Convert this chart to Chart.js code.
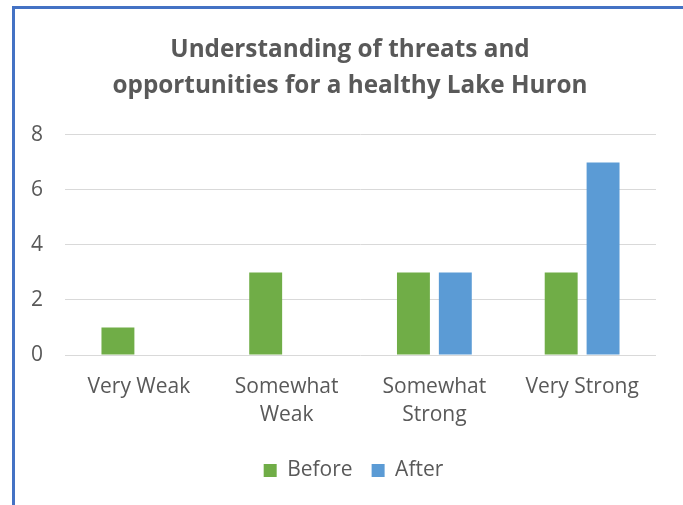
<!DOCTYPE html>
<html>
<head>
<meta charset="utf-8">
<script src="https://cdn.jsdelivr.net/npm/chart.js@4/dist/chart.umd.min.js"></script>
<style>
  html, body { margin: 0; padding: 0; background: #fff; }
  #frame {
    position: absolute; left: 12px; top: 6px;
    width: 671px; height: 499px;
    border-left: 3px solid #4472C4; border-top: 3px solid #4472C4;
    box-sizing: border-box;
  }
  #wrap { position: absolute; left: 0; top: 0; width: 668px; height: 496px; }
</style>
</head>
<body>
<div id="frame"><div id="wrap"><canvas id="c"></canvas></div></div>
<script>
const categories = [["Very Weak"], ["Somewhat", "Weak"], ["Somewhat", "Strong"], ["Very Strong"]];
const beforeValues = [1, 3, 3, 3];
const afterValues = [0, 0, 3, 7];
const yTicks = [0, 2, 4, 6, 8];

const textColor = '#595959';
const font = "'Open Sans', 'Noto Sans', sans-serif";

// Centre the title and legend on the whole chart box rather than on the padded layout area.
const blockShift = {
  id: 'blockShift',
  afterLayout(chart) {
    const t = chart.titleBlock;
    if (t) { t.left += 13.5; t.right += 13.5; }
    const l = chart.legend;
    if (l) { l.left += 17; l.right += 17; l.top += 2; l.bottom += 2; }
  }
};

new Chart(document.getElementById('c'), {
  type: 'bar',
  data: {
    labels: categories,
    datasets: [
      { label: 'Before', data: beforeValues, backgroundColor: '#70AD47' },
      { label: 'After', data: afterValues, backgroundColor: '#5B9BD5' }
    ]
  },
  plugins: [blockShift],
  options: {
    responsive: true,
    maintainAspectRatio: false,
    animation: false,
    layout: { padding: { left: 2, right: 27, top: 23, bottom: 16 } },
    datasets: { bar: { categoryPercentage: 0.567, barPercentage: 0.786 } },
    plugins: {
      title: {
        display: true,
        text: ['Understanding of threats and', 'opportunities for a healthy Lake Huron'],
        color: textColor,
        font: { family: font, size: 24.3, weight: 'bold', lineHeight: 1.48 },
        padding: { top: 0, bottom: 31 }
      },
      legend: {
        position: 'bottom',
        labels: {
          color: textColor,
          font: { family: font, size: 21 },
          boxWidth: 13, boxHeight: 13, padding: 19
        }
      },
      tooltip: { enabled: false }
    },
    scales: {
      x: {
        grid: { display: false },
        border: { display: false },
        ticks: { color: textColor, font: { family: font, size: 21, lineHeight: 1.333 }, maxRotation: 0, padding: 10 }
      },
      y: {
        min: yTicks[0], max: yTicks[yTicks.length - 1],
        afterBuildTicks: (axis) => { axis.ticks = yTicks.map(v => ({ value: v })); },
        afterFit: (axis) => { axis.width = 48; },
        grid: { color: '#D9D9D9', lineWidth: 1, drawTicks: false },
        border: { display: false },
        ticks: { color: textColor, font: { family: font, size: 21 }, padding: 22 }
      }
    }
  }
});
</script>
</body>
</html>
